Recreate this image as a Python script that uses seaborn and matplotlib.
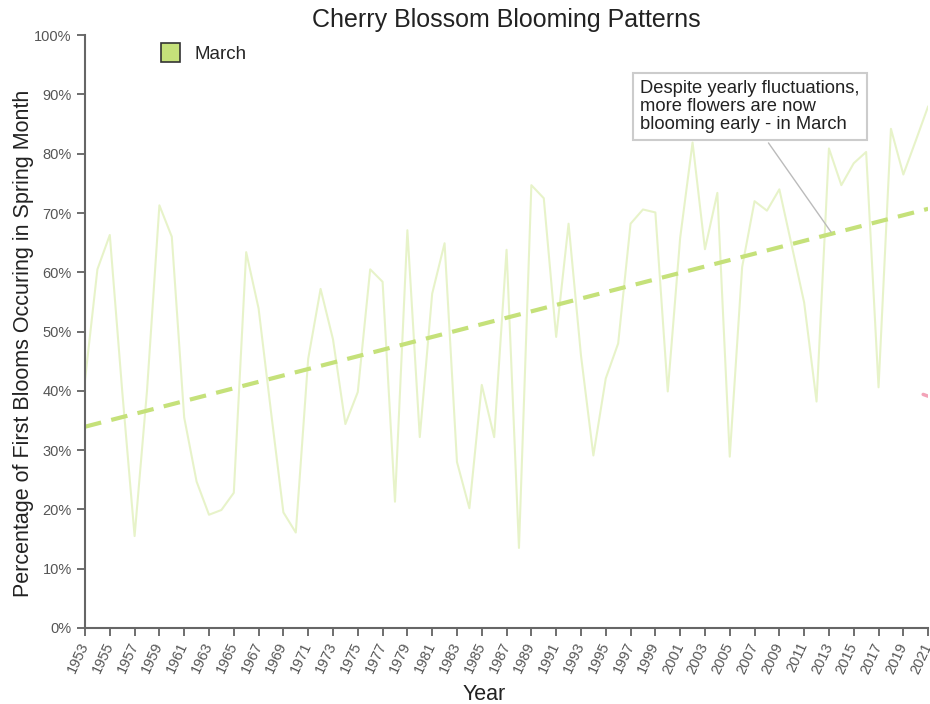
import numpy as np
import pandas as pd
import matplotlib
matplotlib.use("Agg")
import matplotlib.pyplot as plt
import matplotlib.transforms as mtransforms
import seaborn as sns

# Datos (porcentaje de floraciones en marzo)
years = list(range(1953, 2022))
march = [41.8, 60.5, 66.3, 40.0, 15.5, 40.0, 71.3, 66.0, 35.5, 24.7,
         19.1, 19.9, 22.8, 63.4, 53.9, 36.5, 19.5, 16.1, 45.4, 57.2,
         48.7, 34.4, 39.8, 60.5, 58.4, 21.3, 67.1, 32.2, 56.4, 64.9,
         28.0, 20.2, 41.0, 32.2, 63.8, 13.5, 74.7, 72.5, 49.1, 68.2,
         46.0, 29.1, 42.1, 48.0, 68.2, 70.6, 70.1, 39.9, 65.8, 81.9,
         63.9, 73.4, 28.9, 60.9, 72.0, 70.4, 74.0, 64.5, 54.9, 38.2,
         80.9, 74.7, 78.4, 80.3, 40.6, 84.2, 76.5, 82.2, 88.0]

# trocito rosa que asoma en el borde derecho
pink_x = [2020.6, 2021.0]
pink_y = [39.4, 39.1]

df = pd.DataFrame({"Year": years, "March": march})

green = "#c5e17a"
pink = "#f3a3b8"

sns.set_theme(style="white")
plt.rcParams["font.family"] = ["Liberation Sans", "DejaVu Sans"]

fig = plt.figure(figsize=(9.3, 7.04), dpi=100)
ax = fig.add_axes([0.0914, 0.108, 0.9066, 0.842])

sns.lineplot(data=df, x="Year", y="March", color=green, alpha=0.4, lw=1.5, ax=ax)
sns.regplot(data=df, x="Year", y="March", scatter=False, ci=None, ax=ax,
            line_kws={"color": green, "lw": 3, "linestyle": (0, (4, 2.5))})
sns.lineplot(x=pink_x, y=pink_y, color=pink, lw=2.5, ax=ax)

ax.set_xlim(1953, 2021)
ax.set_ylim(0, 100)
ax.set_xticks(range(1953, 2022, 2))
ax.set_yticks(range(0, 101, 10))
ax.set_yticklabels([f"{v}%" for v in range(0, 101, 10)])
shift = mtransforms.ScaledTranslation(-4.5 / 72, 0, fig.dpi_scale_trans)
for lab in ax.get_xticklabels():
    lab.set_rotation(65)
    lab.set_ha("right")
    lab.set_va("center")
    lab.set_rotation_mode("anchor")
    lab.set_transform(lab.get_transform() + shift)
ax.tick_params(axis="both", colors="#555555", labelsize=10.5, length=6, width=1.2,
               direction="out", bottom=True, left=True)
ax.tick_params(axis="x", pad=5)
for s in ["top", "right"]:
    ax.spines[s].set_visible(False)
for s in ["left", "bottom"]:
    ax.spines[s].set_color("#666666")
    ax.spines[s].set_linewidth(1.5)

ax.set_xlabel("Year", fontsize=15.5, color="#222222", labelpad=6)
ax.xaxis.label.set_x(0.473)
ax.set_ylabel("Percentage of First Blooms Occuring in Spring Month", fontsize=15.5,
              color="#222222", labelpad=0)
ax.yaxis.label.set_y(0.48)
fig.text(0.544, 0.9716, "Cherry Blossom Blooming Patterns", fontsize=18,
         ha="center", va="center", color="#222222")

# Leyenda
handle = plt.Rectangle((0, 0), 1, 1, facecolor=green, edgecolor="#333333", lw=1.2)
ax.legend([handle], ["March"], loc="upper left", bbox_to_anchor=(0.07, 1.015), frameon=False,
          fontsize=13.5, handlelength=1.0, handleheight=1.2, handletextpad=0.8)

# Anotacion
ax.annotate("Despite yearly fluctuations,\nmore flowers are now\nblooming early - in March",
            xy=(2013.3, 66.4), xytext=(1997.8, 92.4), ha="left", va="top",
            fontsize=13.2, color="#222222", linespacing=1.05,
            bbox=dict(boxstyle="square,pad=0.4", fc="white", ec="#cccccc", lw=1.5),
            arrowprops=dict(arrowstyle="-", color="#bbbbbb", lw=1, relpos=(0.55, 0)))

fig.savefig("out.png", dpi=100)
